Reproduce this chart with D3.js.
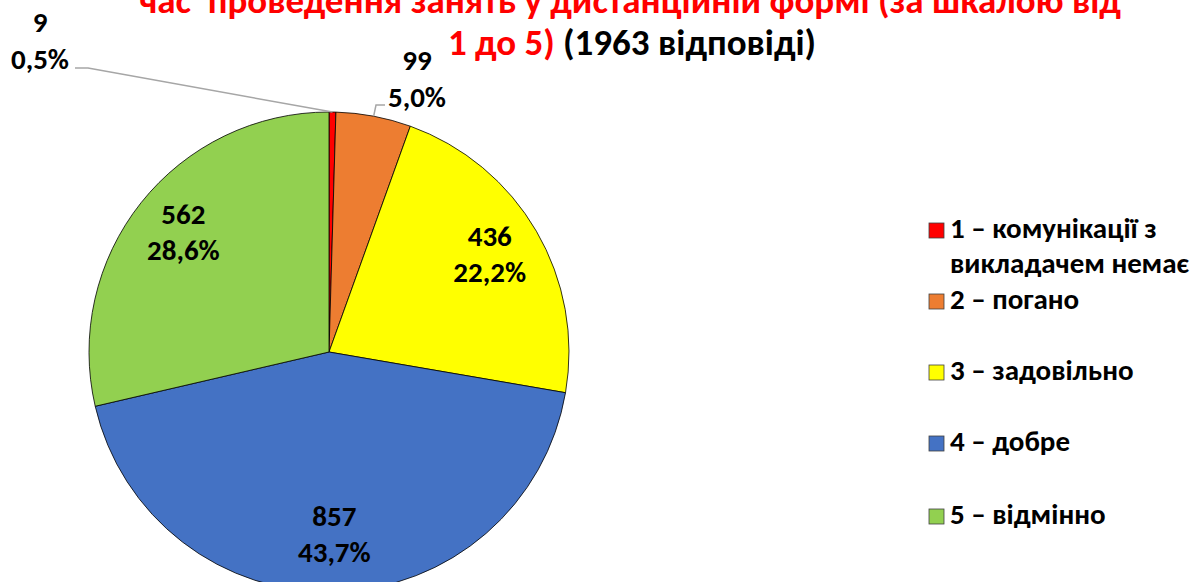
<!DOCTYPE html>
<html>
<head>
<meta charset="utf-8">
<script src="https://cdn.jsdelivr.net/npm/d3@7"></script>
<style>
  body { margin: 0; background: #fff; }
  svg text { font-family: Carlito, "Liberation Sans", sans-serif; font-weight: bold; white-space: pre; }
</style>
</head>
<body>
<svg id="chart" width="1200" height="582"></svg>
<script>
let categories = ['1 – комунікації з викладачем немає', '2 – погано', '3 – задовільно', '4 – добре', '5 – відмінно'];
let legendLines = [['1 – комунікації з', 'викладачем немає'], ['2 – погано'], ['3 – задовільно'], ['4 – добре'], ['5 – відмінно']];
let counts = [9, 99, 436, 857, 562];
let percents = ['0,5%', '5,0%', '22,2%', '43,7%', '28,6%'];
let colors = ['#ff0000', '#ed7d31', '#ffff00', '#4472c4', '#92d050'];
let titleLine1 = 'час  проведення занять у дистанційній формі (за шкалою від';
let titleLine2Red = '1 до 5)';
let titleLine2Black = ' (1963 відповіді)';

let svg = d3.select('#chart');
let cx = 329, cy = 352, r = 240;

// title (first line is partly cut by the top edge, as in the source)
svg.append('text')
  .attr('x', 630).attr('y', 12.5)
  .attr('text-anchor', 'middle')
  .attr('font-size', 37)
  .attr('fill', '#ff0000')
  .text(titleLine1);

let t2 = svg.append('text')
  .attr('x', 632).attr('y', 55)
  .attr('text-anchor', 'middle')
  .attr('font-size', 37);
t2.append('tspan').attr('fill', '#ff0000').text(titleLine2Red);
t2.append('tspan').attr('fill', '#000').text(titleLine2Black);

// pie
let pie = d3.pie().sort(null).value(d => d);
let arcs = pie(counts);
let arc = d3.arc().innerRadius(0).outerRadius(r);
let labelArc = d3.arc().innerRadius(186).outerRadius(186);

let g = svg.append('g').attr('transform', `translate(${cx},${cy})`);

g.selectAll('.slice')
  .data(arcs)
  .enter()
  .append('path')
  .attr('class', 'slice')
  .attr('d', arc)
  .attr('fill', (_, i) => colors[i])
  .attr('stroke', '#000')
  .attr('stroke-width', 0.8);

// inside labels for the big slices
let inside = arcs.filter(d => d.index >= 2);
let lab = g.selectAll('.lab')
  .data(inside)
  .enter()
  .append('text')
  .attr('class', 'lab')
  .attr('text-anchor', 'middle')
  .attr('font-size', 29)
  .attr('fill', '#000')
  .attr('transform', d => {
    let c = labelArc.centroid(d);
    return `translate(${c[0]},${c[1]})`;
  });
lab.append('tspan').attr('x', 0).attr('y', -12).text(d => counts[d.index]);
lab.append('tspan').attr('x', 0).attr('y', 24).text(d => percents[d.index]);

// outside labels for the small slices (dragged away like in the original)
let outside = [
  {i: 0, x: 40 - cx, y: 32 - cy, line: [[75 - cx, 68 - cy], [88 - cx, 68 - cy]]},
  {i: 1, x: 417 - cx, y: 70 - cy, line: [[385 - cx, 105 - cy], [376 - cx, 105 - cy]]}
];

outside.forEach(o => {
  let a = arcs[o.i];
  let mid = (a.startAngle + a.endAngle) / 2;
  let edge = [Math.sin(mid) * r, -Math.cos(mid) * r];
  let pts = o.line.concat([edge]);
  g.append('path')
    .attr('d', d3.line()(pts))
    .attr('fill', 'none')
    .attr('stroke', '#a6a6a6')
    .attr('stroke-width', 1.5);
  let t = g.append('text')
    .attr('text-anchor', 'middle')
    .attr('font-size', 29)
    .attr('fill', '#000');
  t.append('tspan').attr('x', o.x).attr('y', o.y).text(counts[o.i]);
  t.append('tspan').attr('x', o.x).attr('y', o.y + 37).text(percents[o.i]);
});

// legend
let legendY = [238, 309, 380, 451, 524];
let leg = svg.append('g').attr('transform', 'translate(929,0)');
let items = leg.selectAll('.item')
  .data(categories)
  .enter()
  .append('g')
  .attr('class', 'item')
  .attr('transform', (_, i) => `translate(0,${legendY[i]})`);

items.append('rect')
  .attr('x', 0).attr('y', -15)
  .attr('width', 15).attr('height', 15)
  .attr('fill', (_, i) => colors[i])
  .attr('stroke', '#404040')
  .attr('stroke-width', 0.8);

items.each(function(_, i) {
  let t = d3.select(this).append('text')
    .attr('font-size', 29)
    .attr('fill', '#000');
  legendLines[i].forEach((s, k) => {
    t.append('tspan').attr('x', 21).attr('y', k * 35).text(s);
  });
});
</script>
</body>
</html>
